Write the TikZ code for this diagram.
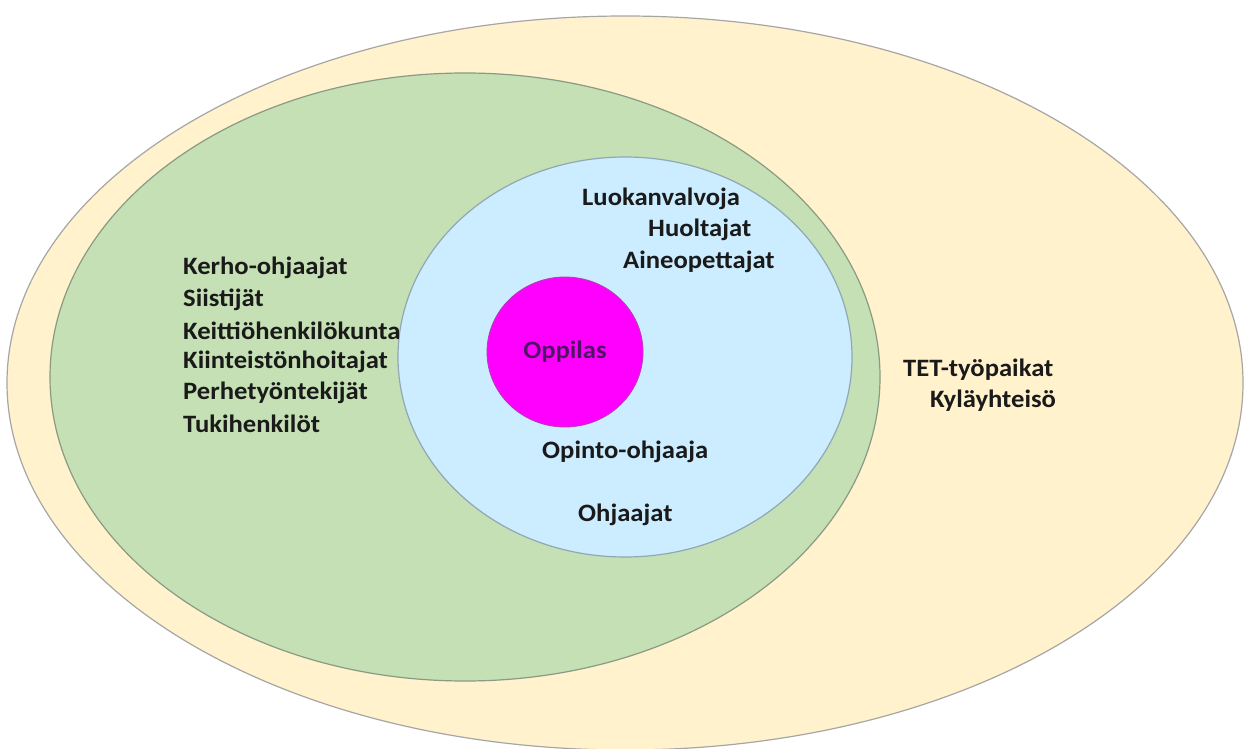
\documentclass[tikz,border=0pt]{standalone}
\usepackage{fontspec}
\setmainfont{Carlito}[FakeStretch=1.065]
\begin{document}
\begin{tikzpicture}[x=1pt,y=-1pt,
  lbl/.style={font=\bfseries\fontsize{25}{29}\selectfont, text=txt, inner sep=0pt, anchor=west},
  ring/.style={line width=1.2pt}]
\definecolor{cream}{HTML}{FFF2CC}
\definecolor{creamline}{HTML}{A6A6A6}
\definecolor{green1}{HTML}{C5E0B4}
\definecolor{greenline}{HTML}{8A9A84}
\definecolor{blue1}{HTML}{CCECFF}
\definecolor{blueline}{HTML}{8FA8B4}
\definecolor{mag}{HTML}{FF00FF}
\definecolor{magline}{HTML}{B040B0}
\definecolor{txt}{HTML}{1A1A1A}
\definecolor{opp}{HTML}{4E1466}
\useasboundingbox (0,0) rectangle (1244,749);
\fill[white] (0,0) rectangle (1244,749);
\draw[ring, fill=cream, draw=creamline] (625,383) ellipse [x radius=618, y radius=367];
\draw[ring, fill=green1, draw=greenline] (465,377) ellipse [x radius=415, y radius=304];
\draw[ring, fill=blue1, draw=blueline] (625,357) ellipse [x radius=227, y radius=200];
\draw[line width=0.8pt, fill=mag, draw=magline] (565,352) ellipse [x radius=78, y radius=75];
% left column
\node[lbl] (kerho) at (183,268) {Kerho-ohjaajat};
\node[lbl] (siisti) at (183,300) {Siistijät};
\node[lbl] (keitti) at (183,331) {Keittiöhenkilökunta};
\node[lbl] (kiint) at (183,362) {Kiinteistönhoitajat};
\node[lbl] (perhe) at (183,393) {Perhetyöntekijät};
\node[lbl] (tuki) at (183,424) {Tukihenkilöt};
% blue
\node[lbl] (luokan) at (582,199) {Luokanvalvoja};
\node[lbl] (huolt) at (648,230) {Huoltajat};
\node[lbl] (aine) at (623,262) {Aineopettajat};
\node[lbl, text=opp, anchor=center] (oppilas) at (565,352) {Oppilas};
\node[lbl] (opinto) at (542,452) {Opinto-ohjaaja};
\node[lbl] (ohj) at (578,515) {Ohjaajat};
% outer
\node[lbl] (tet) at (903,370) {TET-työpaikat};
\node[lbl] (kyla) at (930,401) {Kyläyhteisö};
\end{tikzpicture}
\end{document}
